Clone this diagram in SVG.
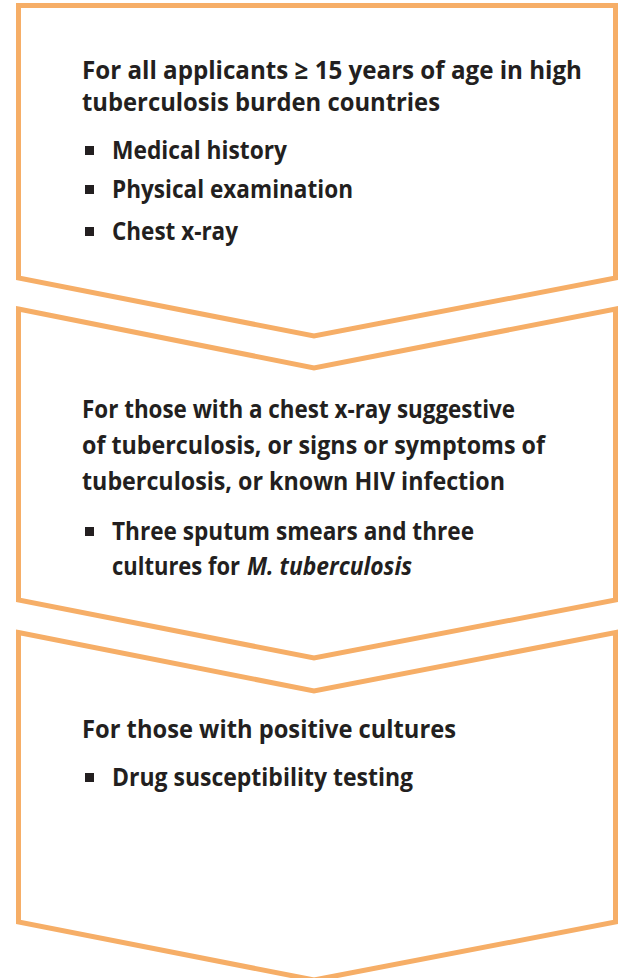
<svg xmlns="http://www.w3.org/2000/svg" width="621" height="978" viewBox="0 0 621 978">
  <style>
    .step { fill: #ffffff; stroke: #F6AE67; stroke-width: 5; stroke-linejoin: miter; }
    .txt { font-family: "Open Sans", Lato, "Liberation Sans", sans-serif; font-weight: 700; font-size: 25.5px; fill: #231F20; }
    .bullet { fill: #231F20; }
    .it { font-style: italic; }
  </style>
  <rect width="621" height="978" fill="#ffffff"/>

  <!-- Step 1: screening for all applicants -->
  <g id="step1">
    <path class="step" d="M18.5,5.5 H615.5 V278 L314,336 L18.5,278 Z"/>
    <text class="txt" x="82" y="79" textLength="500" lengthAdjust="spacingAndGlyphs">For all applicants ≥ 15 years of age in high</text>
    <text class="txt" x="82" y="111" textLength="358" lengthAdjust="spacingAndGlyphs">tuberculosis burden countries</text>
    <rect class="bullet" x="85" y="146" width="9" height="9"/>
    <text class="txt" x="112" y="159" textLength="175" lengthAdjust="spacingAndGlyphs">Medical history</text>
    <rect class="bullet" x="85" y="185" width="9" height="9"/>
    <text class="txt" x="112" y="198" textLength="241" lengthAdjust="spacingAndGlyphs">Physical examination</text>
    <rect class="bullet" x="85" y="227" width="9" height="9"/>
    <text class="txt" x="112" y="240" textLength="126" lengthAdjust="spacingAndGlyphs">Chest x-ray</text>
  </g>

  <!-- Step 2: sputum testing -->
  <g id="step2">
    <path class="step" d="M18.5,309 L314,368 L615.5,309 V600 L314,658 L18.5,600 Z"/>
    <text class="txt" x="82" y="418" textLength="433" lengthAdjust="spacingAndGlyphs">For those with a chest x-ray suggestive</text>
    <text class="txt" x="82" y="454" textLength="463" lengthAdjust="spacingAndGlyphs">of tuberculosis, or signs or symptoms of</text>
    <text class="txt" x="82" y="490" textLength="423" lengthAdjust="spacingAndGlyphs">tuberculosis, or known HIV infection</text>
    <rect class="bullet" x="85" y="527" width="9" height="9"/>
    <text class="txt" x="112" y="540" textLength="362" lengthAdjust="spacingAndGlyphs">Three sputum smears and three</text>
    <text class="txt" x="112" y="575" textLength="128" lengthAdjust="spacingAndGlyphs">cultures for</text>
    <text class="txt it" x="247" y="575" textLength="165" lengthAdjust="spacingAndGlyphs">M. tuberculosis</text>
  </g>

  <!-- Step 3: drug susceptibility -->
  <g id="step3">
    <path class="step" d="M18.5,632.5 L314,691 L615.5,632.5 V922 L314,980 L18.5,922 Z"/>
    <text class="txt" x="82" y="738" textLength="374" lengthAdjust="spacingAndGlyphs">For those with positive cultures</text>
    <rect class="bullet" x="85" y="773" width="9" height="9"/>
    <text class="txt" x="112" y="786" textLength="301" lengthAdjust="spacingAndGlyphs">Drug susceptibility testing</text>
  </g>
</svg>
